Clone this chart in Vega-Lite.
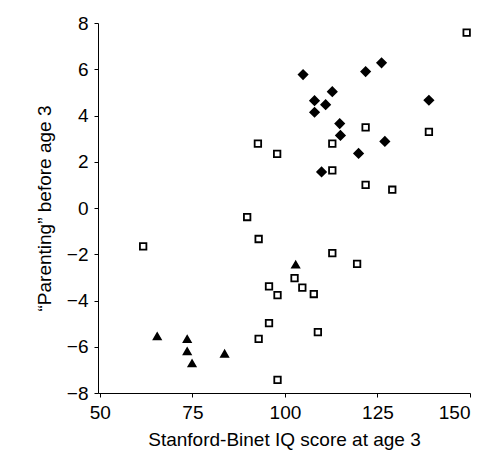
{
  "$schema": "https://vega.github.io/schema/vega-lite/v6.json",
  "width": 372,
  "height": 370,
  "autosize": "none",
  "padding": {"left": 98, "top": 23, "right": 22, "bottom": 65},
  "background": "white",
  "data": {"values": [
    {"iq": 149.1, "parenting": 7.58, "group": "square"},
    {"iq": 121.8, "parenting": 3.49, "group": "square"},
    {"iq": 138.9, "parenting": 3.29, "group": "square"},
    {"iq": 92.7, "parenting": 2.78, "group": "square"},
    {"iq": 97.9, "parenting": 2.34, "group": "square"},
    {"iq": 112.8, "parenting": 2.78, "group": "square"},
    {"iq": 112.8, "parenting": 1.63, "group": "square"},
    {"iq": 121.8, "parenting": 1.0, "group": "square"},
    {"iq": 129.0, "parenting": 0.79, "group": "square"},
    {"iq": 89.8, "parenting": -0.39, "group": "square"},
    {"iq": 92.9, "parenting": -1.34, "group": "square"},
    {"iq": 112.8, "parenting": -1.95, "group": "square"},
    {"iq": 119.5, "parenting": -2.42, "group": "square"},
    {"iq": 102.6, "parenting": -3.03, "group": "square"},
    {"iq": 104.7, "parenting": -3.44, "group": "square"},
    {"iq": 107.8, "parenting": -3.72, "group": "square"},
    {"iq": 95.7, "parenting": -3.39, "group": "square"},
    {"iq": 98.0, "parenting": -3.77, "group": "square"},
    {"iq": 95.7, "parenting": -4.98, "group": "square"},
    {"iq": 108.9, "parenting": -5.37, "group": "square"},
    {"iq": 92.9, "parenting": -5.66, "group": "square"},
    {"iq": 98.0, "parenting": -7.43, "group": "square"},
    {"iq": 61.7, "parenting": -1.66, "group": "square"},
    {"iq": 104.9, "parenting": 5.77, "group": "diamond"},
    {"iq": 121.8, "parenting": 5.9, "group": "diamond"},
    {"iq": 126.1, "parenting": 6.28, "group": "diamond"},
    {"iq": 112.8, "parenting": 5.03, "group": "diamond"},
    {"iq": 108.0, "parenting": 4.64, "group": "diamond"},
    {"iq": 111.0, "parenting": 4.47, "group": "diamond"},
    {"iq": 108.0, "parenting": 4.14, "group": "diamond"},
    {"iq": 138.9, "parenting": 4.66, "group": "diamond"},
    {"iq": 114.8, "parenting": 3.65, "group": "diamond"},
    {"iq": 115.0, "parenting": 3.14, "group": "diamond"},
    {"iq": 127.0, "parenting": 2.88, "group": "diamond"},
    {"iq": 119.9, "parenting": 2.36, "group": "diamond"},
    {"iq": 109.9, "parenting": 1.56, "group": "diamond"},
    {"iq": 102.9, "parenting": -2.45, "group": "triangle"},
    {"iq": 65.5, "parenting": -5.55, "group": "triangle"},
    {"iq": 73.6, "parenting": -5.67, "group": "triangle"},
    {"iq": 73.6, "parenting": -6.2, "group": "triangle"},
    {"iq": 74.9, "parenting": -6.72, "group": "triangle"},
    {"iq": 83.7, "parenting": -6.3, "group": "triangle"}
  ]},
  "mark": {"type": "point", "filled": true, "fill": "black", "stroke": "black", "strokeWidth": 1.8, "opacity": 1},
  "encoding": {
    "x": {
      "field": "iq", "type": "quantitative",
      "scale": {"domain": [49.5, 150], "nice": false, "zero": false},
      "axis": {"values": [50, 75, 100, 125, 150], "title": "Stanford-Binet IQ score at age 3", "titlePadding": 8}
    },
    "y": {
      "field": "parenting", "type": "quantitative",
      "scale": {"domain": [-8, 8], "nice": false, "zero": false},
      "axis": {"values": [-8, -6, -4, -2, 0, 2, 4, 6, 8], "title": "“Parenting” before age 3", "titlePadding": 12}
    },
    "shape": {
      "field": "group", "type": "nominal",
      "scale": {"domain": ["square", "diamond", "triangle"], "range": ["square", "diamond", "triangle-up"]},
      "legend": null
    },
    "fillOpacity": {
      "field": "group", "type": "nominal",
      "scale": {"type": "ordinal", "domain": ["square", "diamond", "triangle"], "range": [0, 1, 1]},
      "legend": null
    },
    "size": {
      "field": "group", "type": "nominal",
      "scale": {"type": "ordinal", "domain": ["square", "diamond", "triangle"], "range": [42, 75, 50]},
      "legend": null
    }
  },
  "config": {
    "view": {"stroke": null},
    "axis": {
      "grid": false,
      "domainColor": "black",
      "domainWidth": 1,
      "tickColor": "black",
      "tickSize": 4,
      "labelColor": "black",
      "titleColor": "black",
      "labelFont": "Liberation Sans",
      "titleFont": "Liberation Sans",
      "labelFontSize": 19,
      "titleFontSize": 19,
      "titleFontWeight": "normal",
      "labelPadding": 6
    }
  }
}
